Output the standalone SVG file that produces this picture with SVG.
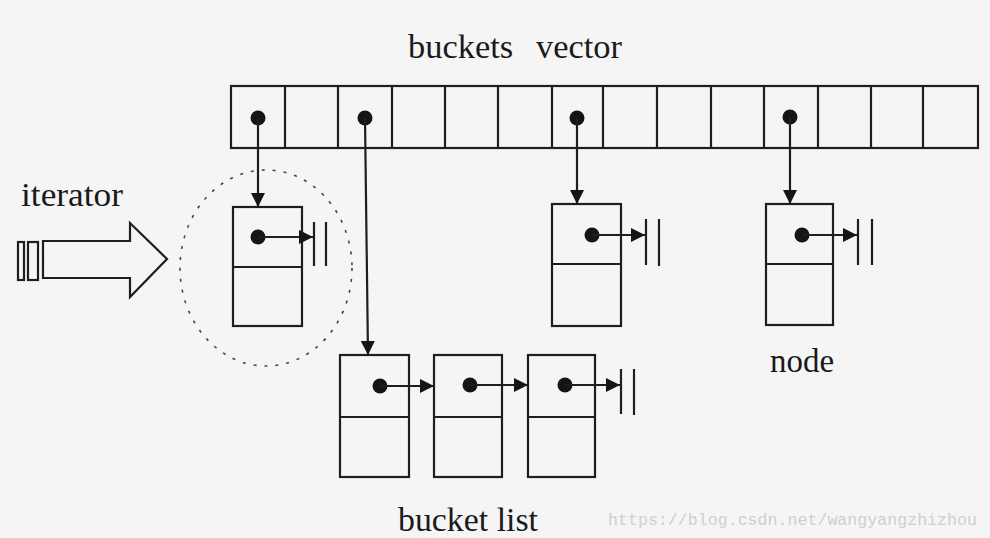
<svg xmlns="http://www.w3.org/2000/svg" width="990" height="538" viewBox="0 0 990 538">
<style>
.bx{fill:none;stroke:#1e1e1e;stroke-width:2.2}
.ln{stroke:#1e1e1e;stroke-width:2.2;fill:none}
.dot{fill:#151515}
.lbl{font-family:"Liberation Serif","Times New Roman",serif;font-size:34px;fill:#1a1a1a}
.wm{font-family:"Liberation Mono","DejaVu Sans Mono",monospace;font-size:16.6px;fill:#cfcfcf}
</style>
<defs>
<marker id="ah" markerUnits="userSpaceOnUse" markerWidth="16" markerHeight="14" refX="14" refY="7" orient="auto">
<path d="M0,0 L14,7 L0,14 z" fill="#151515"/>
</marker>
</defs>
<rect width="990" height="538" fill="#f5f5f5"/>

<g id="labels">
<text class="lbl" x="408" y="58" textLength="214" lengthAdjust="spacingAndGlyphs" word-spacing="14">buckets vector</text>
<text class="lbl" x="21" y="206" textLength="102" lengthAdjust="spacingAndGlyphs">iterator</text>
<text class="lbl" x="770" y="372" textLength="64" lengthAdjust="spacingAndGlyphs">node</text>
<text class="lbl" x="398" y="531" textLength="140" lengthAdjust="spacingAndGlyphs">bucket list</text>
<text class="wm" x="608" y="525" textLength="369" lengthAdjust="spacingAndGlyphs">https://blog.csdn.net/wangyangzhizhou</text>
</g>

<g id="buckets">
<rect class="bx" x="231" y="86" width="747" height="62"/>
<path class="ln" d="M285,86V148 M338,86V148 M392,86V148 M445,86V148 M498,86V148 M552,86V148 M603,86V148 M657,86V148 M711,86V148 M764,86V148 M818,86V148 M871,86V148 M923,86V148"/>
<circle class="dot" cx="258" cy="118" r="7.5"/>
<circle class="dot" cx="365" cy="118" r="7.5"/>
<circle class="dot" cx="577" cy="118" r="7.5"/>
<circle class="dot" cx="790" cy="117" r="7.5"/>
</g>

<g id="iterator">
<polygon class="bx" points="43,241 130,241 130,223 167,259 130,297 130,278 43,278"/>
<rect x="18" y="242" width="6" height="38" fill="none" stroke="#1e1e1e" stroke-width="2.2"/>
<rect x="28" y="242" width="10" height="38" fill="none" stroke="#1e1e1e" stroke-width="2.2"/>
<ellipse cx="266" cy="268" rx="86" ry="98" fill="none" stroke="#444" stroke-width="1.6" stroke-dasharray="3 8"/>
</g>

<g id="node1">
<rect class="bx" x="233" y="207" width="69" height="119"/>
<line class="ln" x1="233" y1="267" x2="302" y2="267"/>
<circle class="dot" cx="258" cy="237" r="7.5"/>
<path class="ln" d="M314,222V266 M326,222V266"/>
</g>

<g id="node2">
<rect class="bx" x="340" y="355" width="69" height="122"/>
<line class="ln" x1="340" y1="417" x2="409" y2="417"/>
<circle class="dot" cx="380" cy="386" r="7.5"/>
</g>
<g id="node3">
<rect class="bx" x="434" y="355" width="68" height="122"/>
<line class="ln" x1="434" y1="417" x2="502" y2="417"/>
<circle class="dot" cx="470" cy="385" r="7.5"/>
</g>
<g id="node4">
<rect class="bx" x="528" y="355" width="67" height="122"/>
<line class="ln" x1="528" y1="417" x2="595" y2="417"/>
<circle class="dot" cx="565" cy="385" r="7.5"/>
<path class="ln" d="M621,369V414 M634,369V415"/>
</g>

<g id="node5">
<rect class="bx" x="552" y="204" width="69" height="122"/>
<line class="ln" x1="552" y1="264" x2="621" y2="264"/>
<circle class="dot" cx="592" cy="235" r="7.5"/>
<path class="ln" d="M646,219V265 M659,219V266"/>
</g>

<g id="node6">
<rect class="bx" x="766" y="204" width="67" height="121"/>
<line class="ln" x1="766" y1="264" x2="833" y2="264"/>
<circle class="dot" cx="802" cy="235" r="7.5"/>
<path class="ln" d="M858,219V265 M872,219V265"/>
</g>

<g id="connectors">
<line class="ln" x1="258" y1="118" x2="258" y2="207" marker-end="url(#ah)"/>
<line class="ln" x1="365" y1="118" x2="368" y2="355" marker-end="url(#ah)"/>
<line class="ln" x1="577" y1="118" x2="577" y2="204" marker-end="url(#ah)"/>
<line class="ln" x1="790" y1="117" x2="790" y2="204" marker-end="url(#ah)"/>
<line class="ln" x1="258" y1="237" x2="313" y2="237" marker-end="url(#ah)"/>
<line class="ln" x1="380" y1="386" x2="434" y2="386" marker-end="url(#ah)"/>
<line class="ln" x1="470" y1="385" x2="528" y2="385" marker-end="url(#ah)"/>
<line class="ln" x1="565" y1="385" x2="620" y2="385" marker-end="url(#ah)"/>
<line class="ln" x1="592" y1="235" x2="645" y2="235" marker-end="url(#ah)"/>
<line class="ln" x1="802" y1="235" x2="857" y2="235" marker-end="url(#ah)"/>
</g>
</svg>
